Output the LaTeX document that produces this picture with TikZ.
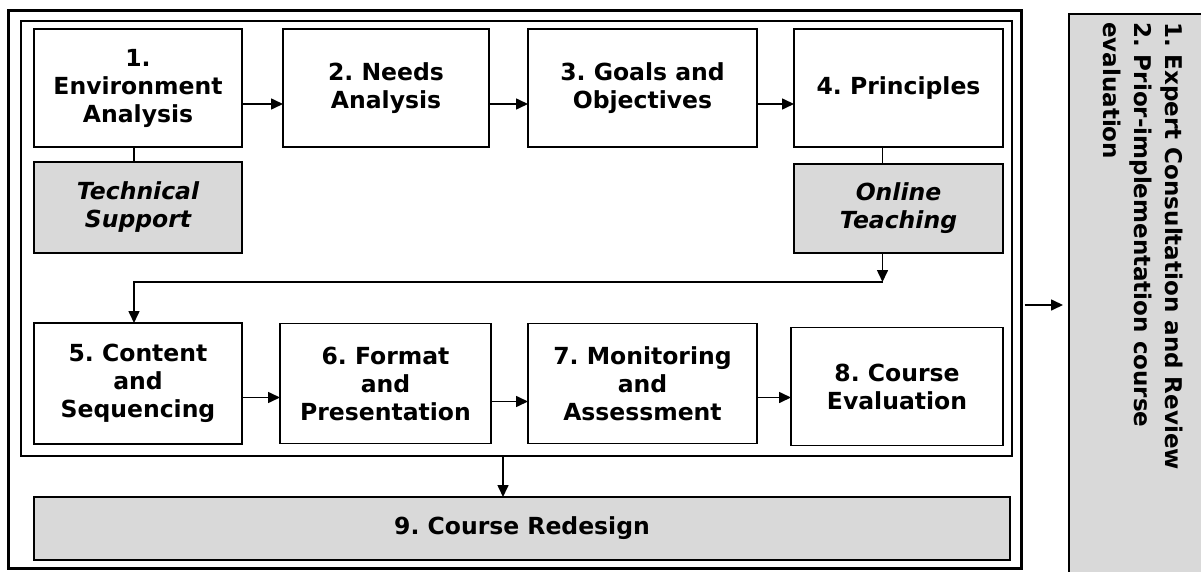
\documentclass[tikz,border=0pt]{standalone}
\usepackage{fontspec}
\setmainfont{DejaVu Sans}
\usetikzlibrary{arrows.meta,positioning}
\definecolor{panelgray}{HTML}{D9D9D9}
\frenchspacing

\tikzset{
  stage/.style={draw,line width=1.6pt,outer sep=0pt,align=center,minimum height=118pt,inner sep=2pt,font=\fontsize{23.5}{28}\selectfont\bfseries},
  support/.style={stage,fill=panelgray,minimum height=91pt,font=\fontsize{23.5}{28}\selectfont\bfseries\itshape},
  flow/.style={-{Triangle[length=12pt,width=11pt]},line width=1.6pt}
}

\begin{document}
\begin{tikzpicture}[x=1pt,y=-1pt]
\useasboundingbox (0,0) rectangle (1201,572);
\clip (0,0) rectangle (1201,572);

% frames
\node[draw,line width=3.8pt,outer sep=0pt,minimum width=1013pt,minimum height=558pt] (frame) at (515,289.5) {};
\node[draw,line width=1.6pt,outer sep=0pt,minimum width=991pt,minimum height=435pt] (cycle) at (516.5,238.5) {};

% first row
\node[stage,minimum width=208pt] (env) at (138,88) {1.\\Environment\\Analysis};
\node[stage,minimum width=206pt,right=41pt of env] (needs) {2. Needs\\Analysis};
\node[stage,minimum width=229pt,right=39pt of needs] (goals) {3. Goals and\\Objectives};
\node[stage,minimum width=209pt,right=37pt of goals] (princ) {4. Principles};

\node[support,minimum width=208pt,below=15pt of env] (tech) {Technical\\Support};
\node[support,minimum width=209pt,minimum height=89pt,below=17pt of princ] (online) {Online\\Teaching};

\draw[flow] ([yshift=-16pt]env.east) -- ([yshift=-16pt]env.east -| needs.west);
\draw[flow] ([yshift=-16pt]needs.east) -- ([yshift=-16pt]needs.east -| goals.west);
\draw[flow] ([yshift=-16pt]goals.east) -- ([yshift=-16pt]goals.east -| princ.west);

\draw[line width=1.6pt] ([xshift=-4pt]env.south) -- ([xshift=-4pt]tech.north);
\draw[line width=1.6pt] ([xshift=-16pt]princ.south) -- ([xshift=-16pt]online.north);

% second row
\node[stage,minimum width=208pt,minimum height=121pt] (content) at (138,383.5) {5. Content\\and\\Sequencing};
\node[stage,minimum width=211pt,minimum height=120pt,right=38pt of content] (format) {6. Format\\and\\Presentation};
\node[stage,minimum width=229pt,minimum height=120pt,right=37pt of format] (monitor) {7. Monitoring\\and\\Assessment};
\node[stage,minimum width=212pt,right=34pt of monitor,yshift=-3pt] (evalu) {8. Course\\Evaluation};

\coordinate (turn) at ([xshift=-16pt,yshift=-29pt]online.south);
\draw[flow] ([xshift=-16pt]online.south) -- (turn);
\draw[flow] (turn) -| ([xshift=-4pt]content.north);

\draw[flow] ([yshift=-14pt]content.east) -- ([yshift=-14pt]content.east -| format.west);
\draw[flow] ([yshift=-18pt]format.east) -- ([yshift=-18pt]format.east -| monitor.west);
\draw[flow] ([yshift=-14pt]monitor.east) -- ([yshift=-14pt]monitor.east -| evalu.west);

% redesign
\node[stage,fill=panelgray,minimum width=976pt,minimum height=63pt] (redesign) at (522,528.5) {9. Course Redesign};
\draw[flow] ([xshift=-13.5pt]cycle.south) -- ([xshift=-13.5pt]cycle.south |- redesign.north);

% review panel
\node[draw,fill=panelgray,line width=1.6pt,minimum width=160pt,minimum height=600pt,anchor=north west] (review) at (1068,13) {};
\node[rotate=-90,anchor=north west,align=left,inner sep=0pt,font=\fontsize{23}{31}\selectfont\bfseries] (reviewtext) at (1183,22) {1. Expert Consultation and Review\\2. Prior-implementation course\\evaluation};
\draw[flow,shorten >=5pt] ([xshift=3pt,yshift=-15.5pt]frame.east) -- ([yshift=-15.5pt]frame.east -| review.west);

\end{tikzpicture}
\end{document}
